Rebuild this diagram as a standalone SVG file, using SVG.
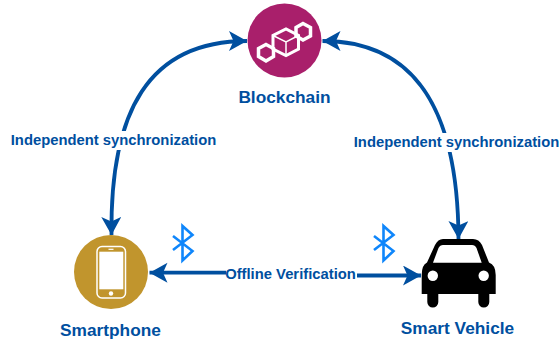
<svg xmlns="http://www.w3.org/2000/svg" width="559" height="343" viewBox="0 0 559 343">
<style>
text{font-family:"Liberation Sans",Arial,sans-serif;font-weight:bold;fill:#004f9f;text-anchor:middle}
.lbl{font-size:17.3px}
.edge{font-size:14.8px}
.con{fill:none;stroke:#004f9f;stroke-width:3.8}
.bt{fill:none;stroke:#0f86fb;stroke-width:2.6}
.w{fill:none;stroke:#fff}
</style>
<defs>
<marker id="ah" markerUnits="userSpaceOnUse" markerWidth="20" markerHeight="22" refX="18" refY="10" orient="auto-start-reverse">
<path d="M0 0L18 10L0 20L4.500 10Z" fill="#004f9f"/>
</marker>
</defs>
<g id="connectors">
<path class="con" d="M111.500 235C110 112 148 41 247 41" marker-start="url(#ah)" marker-end="url(#ah)"/>
<path class="con" d="M322.500 41C405 41 458 95 458.500 239" marker-start="url(#ah)" marker-end="url(#ah)"/>
<path class="con" d="M226 272.700H149.500" marker-end="url(#ah)"/>
<path class="con" d="M357 275.500H421" marker-end="url(#ah)"/>
</g>
<rect x="9" y="131" width="209" height="19" fill="#fff"/>
<rect x="352" y="133" width="207" height="19" fill="#fff"/>
<text class="edge" x="113.500" y="145">Independent synchronization</text>
<text class="edge" x="456.500" y="147">Independent synchronization</text>
<text class="edge" x="290.500" y="278.500">Offline Verification</text>
<g id="blockchain">
<circle cx="284.500" cy="40.500" r="37" fill="#a91f6b"/>
<path class="w" stroke-width="3" d="M273 35.500V49L286 55.500L298.500 49V35.500L286 29Z"/>
<path class="w" stroke-width="1.500" d="M273 35.500L286 42L298.500 35.500M286 42V55.500"/>
<path class="w" stroke-width="3.500" d="M303 23.500L310.500 27.500V36L303 40L296 36V27.500Z"/>
<path class="w" stroke-width="3.500" d="M266 44.500L273.500 48.500V56.500L266 61L258.500 56.500V48.500Z"/>
<text class="lbl" x="284.500" y="103">Blockchain</text>
</g>
<g id="smartphone">
<circle cx="111" cy="272" r="37" fill="#c1952d"/>
<rect x="97" y="246.500" width="28.500" height="51.500" rx="5" class="w" stroke-width="1.500"/>
<rect x="99.300" y="251.700" width="24" height="37.600" fill="#fff"/>
<path d="M108.500 249.300H113.500" stroke="#fff" stroke-width="1.200"/>
<circle cx="111" cy="293.500" r="2.200" fill="#fff"/>
<text class="lbl" x="110.500" y="336">Smartphone</text>
</g>
<g id="smart-vehicle">
<path fill="#000" d="M421.700 275Q421.700 265 427 262.500L435 245Q438 239 443 239H473Q479 239 482 245L489 262.500Q495.700 265 495.700 275V294H489.300V302A5.500 5.500 0 0 1 478.300 302V294H438.300V302A5.500 5.500 0 0 1 427.300 302V294H421.700Z"/>
<path fill="#fff" d="M433 262.700L438.500 248Q440 245 443 245H472Q475 245 476.500 248L481.700 262.700Z"/>
<circle cx="432.800" cy="275.700" r="5.200" fill="#fff"/>
<circle cx="483.700" cy="275.700" r="5.200" fill="#fff"/>
<text class="lbl" x="457.500" y="333.500">Smart Vehicle</text>
</g>
<g id="bluetooth-left"><path class="bt" d="M173 236L192.500 251L182.500 260.500V226L192.500 235L173 250"/></g>
<g id="bluetooth-right"><path class="bt" d="M374 236L393.500 251L383.500 260.500V226L393.500 235L374 250"/></g>
</svg>
